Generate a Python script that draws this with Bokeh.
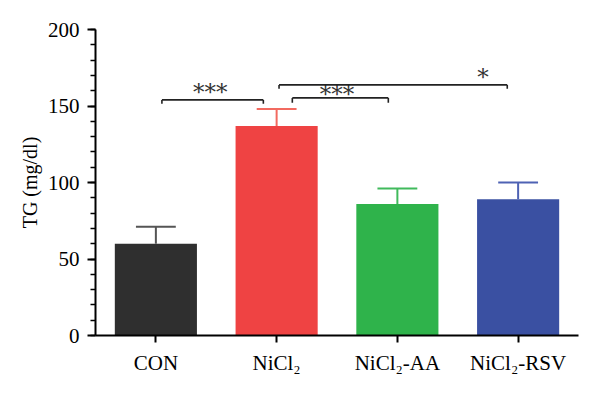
from bokeh.plotting import figure
from bokeh.models import ColumnDataSource, FactorRange, Range1d, SingleIntervalTicker
from bokeh.transform import dodge
from bokeh.core.properties import value
from bokeh.embed import file_html
from bokeh.resources import INLINE

# ---- data ----
categories = ["CON", "NiCl₂", "NiCl₂-AA", "NiCl₂-RSV"]
tg_mean = [60, 137, 86, 89]
tg_err = [11, 11, 10, 11]

# significance brackets
bracket_from = ["CON", "NiCl₂", "NiCl₂"]
bracket_to = ["NiCl₂", "NiCl₂-AA", "NiCl₂-RSV"]
bracket_y = [154, 155.3, 163.8]
bracket_label = ["***", "***", "*"]

# ---- styles ----
bar_colors = ["#2f2f2f", "#ef4343", "#2fb34b", "#3a50a2"]
err_colors = ["#555555", "#f26a60", "#40ba5c", "#4e62b4"]
FONT = "Liberation Serif"

# layout offsets (category units) for bracket ends and labels
br_left_off = [0.05, 0.13, 0.02]
br_right_off = [-0.11, -0.075, -0.09]
lab_anchor = ["CON", "NiCl₂", "NiCl₂-RSV"]
lab_off = [0.45, 0.5, -0.29]
lab_dy = [-8, -4, -8]
tick_drop = [2.6, 3.2, 2.6]

p = figure(
    width=592, height=389,
    x_range=FactorRange(factors=categories),
    y_range=Range1d(0, 200),
    output_backend="svg", toolbar_location=None,
    min_border_left=95, min_border_right=14, min_border_top=29, min_border_bottom=54,
)
p.outline_line_color = None
p.xgrid.grid_line_color = None
p.ygrid.grid_line_color = None
p.background_fill_color = "white"

src = ColumnDataSource(dict(
    cat=categories, val=tg_mean,
    up=[m + e for m, e in zip(tg_mean, tg_err)],
    bc=bar_colors, ec=err_colors,
))

p.vbar(x="cat", top="val", width=0.68, source=src, fill_color="bc", line_color=None)
p.segment(x0="cat", x1="cat", y0="val", y1="up", source=src, line_color="ec", line_width=2)
p.segment(x0=dodge("cat", -0.165, range=p.x_range), x1=dodge("cat", 0.165, range=p.x_range),
          y0="up", y1="up", source=src, line_color="ec", line_width=2)

for i in range(len(bracket_from)):
    bs = ColumnDataSource(dict(a=[bracket_from[i]], b=[bracket_to[i]], y=[bracket_y[i]],
                               yd=[bracket_y[i] - tick_drop[i]]))
    xa = dodge("a", br_left_off[i], range=p.x_range)
    xb = dodge("b", br_right_off[i], range=p.x_range)
    p.segment(x0=xa, x1=xb, y0="y", y1="y", source=bs, line_color="#222222", line_width=1.6)
    p.segment(x0=xa, x1=xa, y0="y", y1="yd", source=bs, line_color="#222222", line_width=1.6)
    p.segment(x0=xb, x1=xb, y0="y", y1="yd", source=bs, line_color="#222222", line_width=1.6)
    ls = ColumnDataSource(dict(c=[lab_anchor[i]], y=[bracket_y[i]], t=[bracket_label[i]]))
    p.text(x=dodge("c", lab_off[i], range=p.x_range), y="y", text="t", source=ls,
           text_align="center", text_baseline="alphabetic", y_offset=lab_dy[i],
           text_font=value("DejaVu Serif"), text_font_size="23px", text_color="#333333")

# axes
p.yaxis.ticker = SingleIntervalTicker(interval=50, num_minor_ticks=5)
p.yaxis.axis_label = "TG (mg/dl)"
for ax in (p.xaxis[0], p.yaxis[0]):
    ax.axis_line_width = 2
    ax.axis_line_color = "black"
    ax.major_tick_line_color = "black"
    ax.major_tick_line_width = 2
    ax.major_tick_out = 8
    ax.major_tick_in = 0
    ax.major_label_text_font = FONT
    ax.major_label_text_font_size = "21px"
    ax.major_label_text_color = "black"
    ax.axis_label_text_font = FONT
    ax.axis_label_text_font_size = "20px"
    ax.axis_label_text_font_style = "normal"
    ax.axis_label_text_color = "black"
p.yaxis.minor_tick_line_color = "black"
p.yaxis.minor_tick_line_width = 1.5
p.yaxis.minor_tick_out = 5
p.yaxis.minor_tick_in = 0
p.yaxis.major_label_standoff = 8
p.yaxis.axis_label_standoff = 4
p.xaxis.major_tick_out = 7
p.xaxis.major_label_standoff = 8

open("out.html", "w").write(file_html(p, INLINE))
